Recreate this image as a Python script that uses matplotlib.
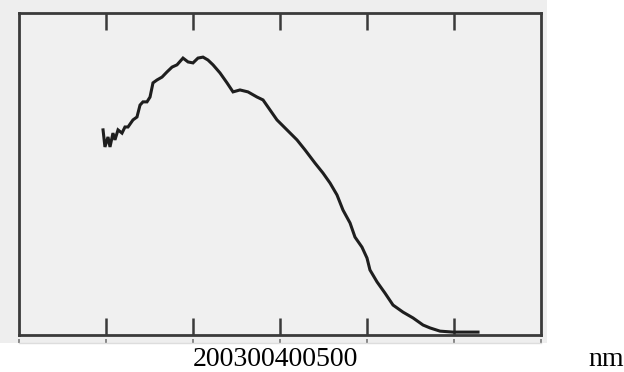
import matplotlib
matplotlib.use("Agg")
import matplotlib.pyplot as plt
from matplotlib.patches import Rectangle

# Spectrum (wavelength in nm, relative absorbance)
wavelength = [196.6, 198.8, 202.3, 204.6, 208.0, 210.3, 213.8, 218.4, 221.8, 225.3,
              231.0, 235.6, 239.1, 242.5, 247.1, 250.6, 254.0, 258.6, 264.4, 270.1,
              275.9, 281.6, 288.5, 294.3, 300.0, 305.7, 311.5, 317.2, 323.0, 331.0,
              339.1, 346.0, 354.0, 363.2, 373.6, 380.5, 388.5, 396.5, 408.0, 419.5,
              428.7, 440.2, 449.4, 457.5, 465.5, 472.4, 480.5, 486.2, 494.2, 500.0,
              503.4, 511.5, 520.7, 529.9, 541.4, 552.9, 564.4, 572.4, 583.9, 598.8,
              614.9, 627.6]
absorbance = [0.637, 0.584, 0.615, 0.584, 0.627, 0.606, 0.637, 0.627, 0.646, 0.646,
              0.668, 0.677, 0.714, 0.724, 0.724, 0.739, 0.783, 0.792, 0.801, 0.817,
              0.832, 0.839, 0.860, 0.848, 0.845, 0.860, 0.863, 0.854, 0.839, 0.814,
              0.783, 0.755, 0.761, 0.755, 0.739, 0.730, 0.699, 0.668, 0.637, 0.606,
              0.575, 0.534, 0.503, 0.472, 0.435, 0.388, 0.348, 0.304, 0.273, 0.239,
              0.202, 0.165, 0.130, 0.093, 0.071, 0.053, 0.031, 0.022, 0.012, 0.009,
              0.009, 0.009]
major_ticks = [200, 300, 400, 500, 600]
outer_ticks = [100, 200, 300, 400, 500, 600, 700]
tick_labels = ["200", "300", "400", "500"]
unit_label = "nm"

W, H = 624, 372
fig = plt.figure(figsize=(W / 100, H / 100), dpi=100)
fig.patch.set_facecolor("white")

# scanned grey paper area
fig.patches.append(Rectangle((0, (H - 343) / H), 547 / W, 343 / H,
                             transform=fig.transFigure, facecolor="#eeeeee",
                             edgecolor="none", zorder=-5))

ax = fig.add_axes([19 / W, (H - 335) / H, 522 / W, 322 / H])
ax.set_zorder(2)
ax.set_facecolor("#f0f0f0")
ax.plot(wavelength, absorbance, color="#1e1e1e", lw=2.2, solid_joinstyle="miter")
ax.set_xlim(100, 700)
ax.set_ylim(0, 1.0)

for s in ax.spines.values():
    s.set_color("#3a3a3a")
    s.set_linewidth(2.0)

ax.set_xticks(major_ticks)
ax.set_yticks([])
ax.tick_params(axis="x", direction="in", length=12, width=1.8, color="#3a3a3a",
               top=True, bottom=True, labelbottom=False, labeltop=False)

# faint ruler line below the frame
sec = ax.secondary_xaxis(-0.025)
sec.set_xticks(outer_ticks)
sec.spines["bottom"].set_color("#dddddd")
sec.spines["bottom"].set_linewidth(1.0)
sec.tick_params(axis="x", direction="in", length=3, width=1.2, color="#777777",
                labelbottom=False)

fig.text(275 / W, (H - 366) / H, "".join(tick_labels), ha="center", va="baseline",
         fontsize=20, family="Liberation Serif", color="black")
fig.text(606 / W, (H - 366) / H, unit_label, ha="center", va="baseline",
         fontsize=20, family="Liberation Serif", color="black")

fig.savefig("out.png", dpi=100)
